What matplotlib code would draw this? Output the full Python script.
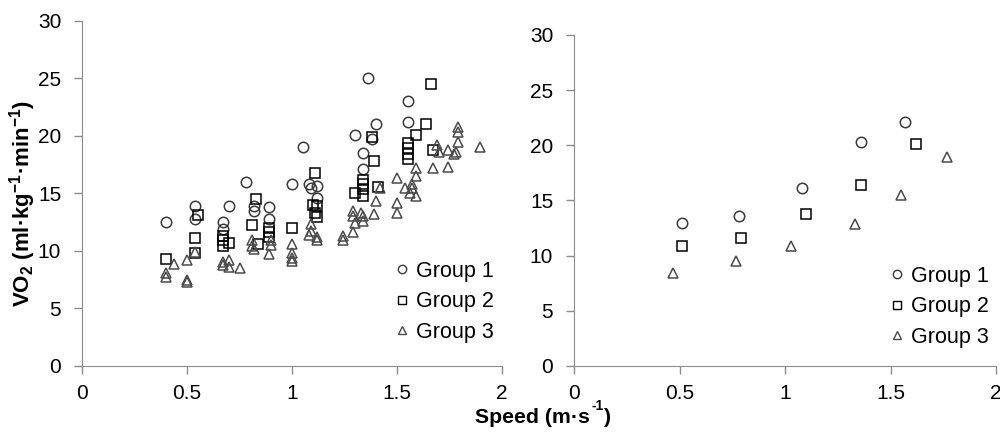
import matplotlib
matplotlib.use("Agg")
import matplotlib.pyplot as plt
from matplotlib.lines import Line2D

plt.rcParams.update({
    "font.family": ["Liberation Sans", "DejaVu Sans"],
    "mathtext.fontset": "custom",
    "mathtext.rm": "Liberation Sans",
    "mathtext.bf": "Liberation Sans:bold",
    "axes.edgecolor": "#8c8c8c",
    "xtick.color": "#8c8c8c",
    "ytick.color": "#8c8c8c",
    "xtick.labelcolor": "black",
    "ytick.labelcolor": "black",
})

# Left panel: individual measurements (speed m/s, VO2 ml/kg/min)
g1_x = [0.40, 0.54, 0.54, 0.67, 0.67, 0.70, 0.78, 0.82, 0.82, 0.89, 0.89, 1.00, 1.05,
        1.08, 1.09, 1.12, 1.12, 1.30, 1.34, 1.34, 1.36, 1.38, 1.40, 1.55, 1.55]
g1_y = [12.5, 13.9, 12.75, 12.5, 11.9, 13.9, 16.0, 13.9, 13.5, 13.85, 12.8, 15.8, 19.05,
        15.8, 15.5, 15.6, 14.6, 20.1, 18.5, 17.1, 25.0, 19.7, 21.0, 23.0, 21.2]

g2_x = [0.40, 0.55, 0.54, 0.54, 0.67, 0.67, 0.67, 0.70, 0.83, 0.81, 0.84, 0.89, 0.89, 0.89,
        1.00, 1.11, 1.10, 1.12, 1.11, 1.12, 1.30, 1.34, 1.34, 1.34, 1.34, 1.38, 1.39, 1.41,
        1.55, 1.55, 1.55, 1.55, 1.59, 1.64, 1.66, 1.67]
g2_y = [9.25, 13.1, 11.1, 9.85, 11.3, 10.9, 10.4, 10.7, 14.5, 12.25, 10.6, 12.0, 11.6, 11.2,
        12.0, 16.8, 13.95, 13.9, 13.3, 12.9, 15.05, 16.2, 15.8, 15.35, 14.8, 19.9, 17.8, 15.55,
        19.4, 18.9, 18.45, 17.95, 20.1, 21.0, 24.5, 18.8]

g3_x = [0.40, 0.40, 0.44, 0.50, 0.50, 0.50, 0.54, 0.67, 0.67, 0.70, 0.70, 0.75, 0.81, 0.81,
        0.82, 0.90, 0.90, 0.89, 1.00, 1.00, 1.00, 1.00, 1.09, 1.09, 1.08, 1.12, 1.12, 1.245,
        1.245, 1.29, 1.29, 1.33, 1.29, 1.34, 1.30, 1.34, 1.39, 1.40, 1.42, 1.50, 1.50, 1.50,
        1.54, 1.57, 1.57, 1.56, 1.59, 1.59, 1.59, 1.67, 1.745, 1.69, 1.70, 1.745, 1.77, 1.78,
        1.79, 1.79, 1.79, 1.895]
g3_y = [8.1, 7.7, 8.9, 9.2, 7.5, 7.3, 9.9, 9.0, 8.75, 9.2, 8.6, 8.5, 10.9, 10.4,
        10.2, 10.9, 10.5, 9.7, 10.6, 9.85, 9.4, 9.1, 12.3, 11.7, 11.4, 11.2, 10.9, 11.3,
        10.9, 11.6, 13.5, 13.3, 13.0, 13.0, 12.4, 12.6, 13.2, 14.3, 15.5, 16.35, 14.2, 13.3,
        15.5, 15.8, 15.5, 15.05, 14.8, 17.2, 16.5, 17.2, 17.3, 19.2, 18.6, 18.8, 18.4, 18.6,
        20.8, 20.3, 19.5, 19.05]

# Right panel: group means per speed stage
m1_x = [0.51, 0.78, 1.08, 1.36, 1.57]
m1_y = [13.0, 13.6, 16.1, 20.3, 22.1]
m2_x = [0.51, 0.79, 1.10, 1.36, 1.62]
m2_y = [10.9, 11.6, 13.8, 16.4, 20.1]
m3_x = [0.47, 0.77, 1.03, 1.33, 1.55, 1.77]
m3_y = [8.4, 9.5, 10.9, 12.9, 15.5, 18.9]

labels = ["Group 1", "Group 2", "Group 3"]
styles = [("o", "#3a3a3a"), ("s", "black"), ("^", "#4a4a4a")]

fig = plt.figure(figsize=(10, 4.32), dpi=100)
ax1 = fig.add_axes([0.082, 0.153, 0.420, 0.799])
ax2 = fig.add_axes([0.574, 0.153, 0.422, 0.766])


def style_axis(ax):
    ax.set_xlim(0, 2)
    ax.set_ylim(0, 30)
    ax.set_xticks([0, 0.5, 1, 1.5, 2])
    ax.set_xticklabels(["0", "0.5", "1", "1.5", "2"])
    ax.set_yticks(range(0, 31, 5))
    for s in ["top", "right"]:
        ax.spines[s].set_visible(False)
    ax.tick_params(axis="both", direction="out", length=6, width=1, labelsize=15, pad=7)
    ax.tick_params(axis="y", pad=9)
    ax.set_facecolor("white")


for ax, data, ms in [(ax1, [(g1_x, g1_y), (g2_x, g2_y), (g3_x, g3_y)], 7.5),
                     (ax2, [(m1_x, m1_y), (m2_x, m2_y), (m3_x, m3_y)], 7.5)]:
    for (xs, ys), (mk, col) in zip(data, styles):
        ax.plot(xs, ys, linestyle="none", marker=mk, markersize=ms if mk != "^" else ms - 0.5,
                markerfacecolor="none", markeredgecolor=col, markeredgewidth=1.1, clip_on=False)
    style_axis(ax)

handles = [Line2D([], [], linestyle="none", marker=mk, markersize=6, markerfacecolor="none",
                  markeredgecolor=col, markeredgewidth=1.0) for mk, col in styles]
for x0, y0 in [(0.396, 1 - 261 / 432), (0.891, 1 - 266 / 432)]:
    fig.legend(handles, labels, loc="upper left", bbox_to_anchor=(x0, y0),
               frameon=False, fontsize=15.5, handlelength=0.6, handletextpad=0.35,
               labelspacing=0.44, borderpad=0, borderaxespad=0)

fig.text(0.023, 1 - 204 / 432, r"VO$_\mathbf{2}$ (ml·kg$^{\mathbf{-1}}$·min$^{\mathbf{-1}}$)",
         rotation=90, ha="center", va="center", fontsize=16, fontweight="bold")
fig.text(0.475, 1 - 423 / 432, "Speed (m·s", ha="left", va="baseline",
         fontsize=15.3, fontweight="bold")
fig.text(0.604, 1 - 423 / 432, ")", ha="left", va="baseline", fontsize=15.3, fontweight="bold")
fig.text(0.592, 1 - 410 / 432, "-1", ha="left", va="baseline", fontsize=10, fontweight="bold")

fig.savefig("out.png", dpi=100, facecolor="white")
